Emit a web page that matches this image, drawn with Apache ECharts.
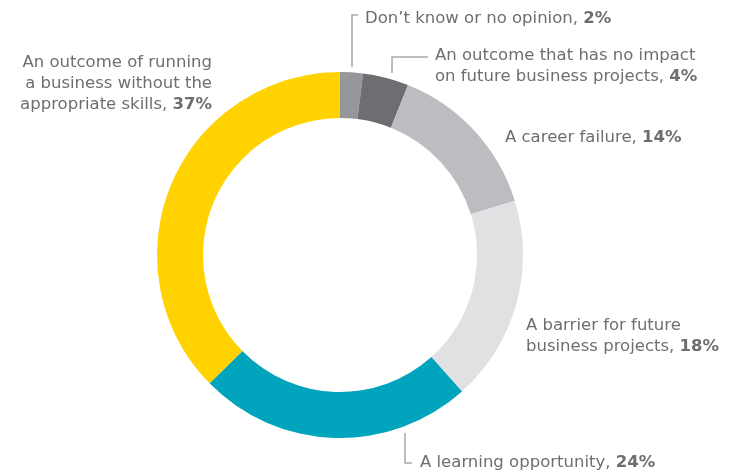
<!DOCTYPE html>
<html>
<head>
<meta charset="utf-8">
<script src="https://cdn.jsdelivr.net/npm/echarts@6/dist/echarts.min.js"></script>
<style>
  html, body { margin: 0; padding: 0; background: #fff; }
  #chart { width: 736px; height: 472px; }
</style>
</head>
<body>
<div id="chart"></div>
<script>
// Survey answers, listed clockwise from twelve o'clock
const categories = [
  "Don\u2019t know or no opinion",
  "An outcome that has no impact\non future business projects",
  "A career failure",
  "A barrier for future\nbusiness projects",
  "A learning opportunity",
  "An outcome of running\na business without the\nappropriate skills"
];
const shares = [2, 4, 14, 18, 24, 37];
const sliceColors = ["#96979a", "#6d6e71", "#bcbdc0", "#e0e1e3", "#00a4bd", "#ffd200"];

// Where each callout sits and how its leader line bends
const calloutPlacement = [
  { x: 365, y: 19, align: "left", line: [[352, 67], [352, 15], [358, 15]] },
  { x: 435, y: 66, align: "left", line: [[392, 73], [392, 57], [428, 57]] },
  { x: 505, y: 138, align: "left" },
  { x: 526, y: 336, align: "left" },
  { x: 420, y: 463, align: "left", line: [[405, 433], [405, 463], [412, 463]] },
  { x: 212, y: 84, align: "right" }
];

const FONT = "'DejaVu Sans', sans-serif";

const pieData = categories.map((name, i) => ({
  name: name,
  value: shares[i],
  itemStyle: { color: sliceColors[i] },
  labelLine: { show: !!calloutPlacement[i].line }
}));

const chart = echarts.init(document.getElementById("chart"), null, { renderer: "canvas" });

chart.setOption({
  animation: false,
  series: [{
    type: "pie",
    center: [340, 255],
    radius: [137, 183],
    startAngle: 90,
    clockwise: true,
    avoidLabelOverlap: false,
    itemStyle: { borderWidth: 0 },
    emphasis: { disabled: true },
    data: pieData,
    label: {
      show: true,
      position: "outside",
      formatter: function (p) {
        const lines = p.name.split("\n");
        const last = lines.pop();
        const head = lines.map(l => "{t|" + l + "}").join("\n");
        return (head ? head + "\n" : "") + "{t|" + last + ", }{b|" + p.value + "%}";
      },
      rich: {
        t: { fontFamily: FONT, fontSize: 16.5, color: "#6d6e71", lineHeight: 21 },
        b: { fontFamily: FONT, fontSize: 16.5, fontWeight: "bold", color: "#6d6e71", lineHeight: 21 }
      }
    },
    labelLine: {
      show: true,
      lineStyle: { color: "#a7a9ac", width: 1.5 }
    },
    labelLayout: function (params) {
      const c = calloutPlacement[params.dataIndex];
      const out = { x: c.x, y: c.y, align: c.align, verticalAlign: "middle" };
      if (c.line) out.labelLinePoints = c.line;
      return out;
    }
  }]
});
</script>
</body>
</html>
